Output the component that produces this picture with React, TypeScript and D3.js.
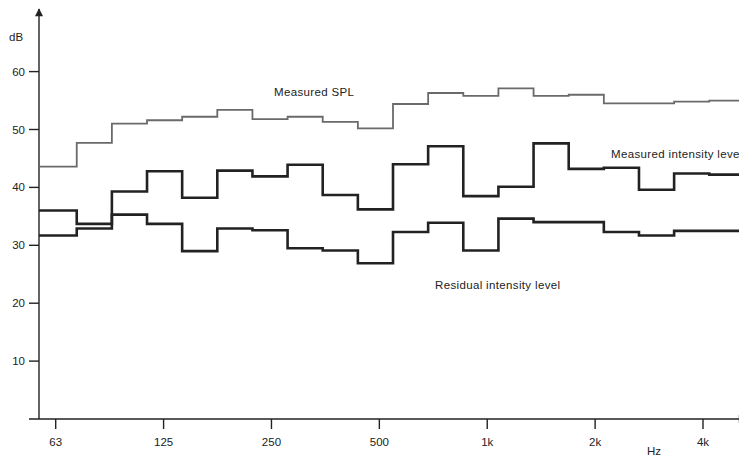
import React, { useRef, useEffect } from 'react';
import * as d3 from 'd3';

// Third-octave bands, 63 Hz to 5 kHz
const bands = ['63', '80', '100', '125', '160', '200', '250', '315', '400', '500',
  '630', '800', '1k', '1.25k', '1.6k', '2k', '2.5k', '3.15k', '4k', '5k'];

const measuredSPL = [43.6, 47.7, 51.0, 51.6, 52.2, 53.4, 51.8, 52.2, 51.3, 50.2,
  54.4, 56.3, 55.8, 57.1, 55.8, 56.0, 54.5, 54.5, 54.8, 55.0];

const measuredIntensity = [36.0, 33.7, 39.3, 42.8, 38.2, 42.9, 41.9, 43.9, 38.7, 36.2,
  44.0, 47.1, 38.5, 40.1, 47.6, 43.2, 43.4, 39.6, 42.4, 42.2];

const residualIntensity = [31.7, 32.9, 35.3, 33.7, 29.0, 32.9, 32.6, 29.5, 29.1, 26.9,
  32.3, 33.9, 29.1, 34.6, 34.0, 34.0, 32.3, 31.7, 32.5, 32.5];

const freqTicks = [62.5, 125, 250, 500, 1000, 2000, 4000];
const freqTickLabels = ['63', '125', '250', '500', '1k', '2k', '4k'];
const dbTicks = [10, 20, 30, 40, 50, 60];

const App = () => {
  const svgRef = useRef<SVGSVGElement>(null);

  useEffect(() => {
    const width = 739;
    const height = 457;
    const axisX = 39;
    const axisY = 419;
    const ink = '#222';
    const font = '"Liberation Sans", Arial, sans-serif';

    const svg = d3.select(svgRef.current)
      .attr('width', width)
      .attr('height', height)
      .attr('viewBox', `0 0 ${width} ${height}`);

    svg.selectAll('*').remove();

    // y: dB
    const y = d3.scaleLinear().domain([0, 60]).range([axisY, 71.6]);

    // x for the steps (one band per third octave)
    const xBand = d3.scaleBand<string>()
      .domain(bands)
      .range([41.6, 744.4])
      .padding(0);

    // x for the octave ticks
    const xFreq = d3.scaleLog().base(2).domain([62.5, 4000]).range([55.7, 703]);

    // arrow marker
    const defs = svg.append('defs');
    defs.append('marker')
      .attr('id', 'arrow')
      .attr('viewBox', '0 0 10 10')
      .attr('refX', 9)
      .attr('refY', 5)
      .attr('markerWidth', 9)
      .attr('markerHeight', 8)
      .attr('markerUnits', 'userSpaceOnUse')
      .attr('orient', 'auto')
      .append('path')
      .attr('d', 'M0,0 L10,5 L0,10 Z')
      .attr('fill', ink);

    // axes lines
    svg.append('line')
      .attr('x1', axisX).attr('x2', axisX)
      .attr('y1', axisY).attr('y2', 9)
      .attr('stroke', ink).attr('stroke-width', 1.4)
      .attr('marker-end', 'url(#arrow)');

    svg.append('line')
      .attr('x1', 29).attr('x2', 746)
      .attr('y1', axisY).attr('y2', axisY)
      .attr('stroke', ink).attr('stroke-width', 1.4)
      .attr('marker-end', 'url(#arrow)');

    // y ticks
    const yg = svg.append('g');
    yg.selectAll('line')
      .data(dbTicks)
      .join('line')
      .attr('x1', 29).attr('x2', axisX)
      .attr('y1', d => y(d)).attr('y2', d => y(d))
      .attr('stroke', ink).attr('stroke-width', 1.4);
    yg.selectAll('text')
      .data(dbTicks)
      .join('text')
      .attr('x', 25)
      .attr('y', d => y(d))
      .attr('dy', '0.35em')
      .attr('text-anchor', 'end')
      .attr('font-family', font)
      .attr('font-size', 11.5)
      .attr('fill', ink)
      .text(d => d);

    svg.append('text')
      .attr('x', 9).attr('y', 41)
      .attr('font-family', font).attr('font-size', 11.5)
      .attr('fill', ink)
      .text('dB');

    // x ticks
    const xg = svg.append('g');
    xg.selectAll('line')
      .data(freqTicks)
      .join('line')
      .attr('x1', d => xFreq(d)).attr('x2', d => xFreq(d))
      .attr('y1', axisY).attr('y2', axisY + 10)
      .attr('stroke', ink).attr('stroke-width', 1.4);
    xg.selectAll('text')
      .data(freqTicks)
      .join('text')
      .attr('x', d => xFreq(d))
      .attr('y', 446)
      .attr('text-anchor', 'middle')
      .attr('font-family', font)
      .attr('font-size', 11.5)
      .attr('fill', ink)
      .text((d, i) => freqTickLabels[i]);

    svg.append('text')
      .attr('x', 647).attr('y', 455)
      .attr('font-family', font).attr('font-size', 11.5)
      .attr('fill', ink)
      .text('Hz');

    svg.append('text')
      .attr('x', 699).attr('y', 463)
      .attr('font-family', font).attr('font-size', 9)
      .attr('fill', '#555')
      .text('071674');

    // step lines
    const step = d3.line<[number, number]>().curve(d3.curveStepAfter);
    const points = (values: number[]): [number, number][] => {
      const pts: [number, number][] = values.map((v, i) =>
        [i === 0 ? axisX : (xBand(bands[i]) as number), y(v)]);
      const last = bands[bands.length - 1];
      pts.push([(xBand(last) as number) + xBand.bandwidth(), y(values[values.length - 1])]);
      return pts;
    };

    svg.append('path')
      .attr('d', step(points(measuredSPL)))
      .attr('fill', 'none')
      .attr('stroke', '#6a6a6a')
      .attr('stroke-width', 1.8);

    svg.append('path')
      .attr('d', step(points(measuredIntensity)))
      .attr('fill', 'none')
      .attr('stroke', ink)
      .attr('stroke-width', 2.6);

    svg.append('path')
      .attr('d', step(points(residualIntensity)))
      .attr('fill', 'none')
      .attr('stroke', ink)
      .attr('stroke-width', 2.6);

    // labels
    const labels = [
      { text: 'Measured SPL', x: 274, y: 95.5 },
      { text: 'Measured intensity level', x: 611, y: 157.5 },
      { text: 'Residual intensity level', x: 435, y: 289 },
    ];
    svg.append('g')
      .selectAll('text')
      .data(labels)
      .join('text')
      .attr('x', d => d.x)
      .attr('y', d => d.y)
      .attr('font-family', font)
      .attr('font-size', 11.5)
      .attr('letter-spacing', 0.35)
      .attr('fill', ink)
      .text(d => d.text);
  }, []);

  return (
    <svg
      ref={svgRef}
      style={{ position: 'fixed', left: 0, top: 0, background: '#fff', overflow: 'hidden' }}
    ></svg>
  );
};

export default App;
